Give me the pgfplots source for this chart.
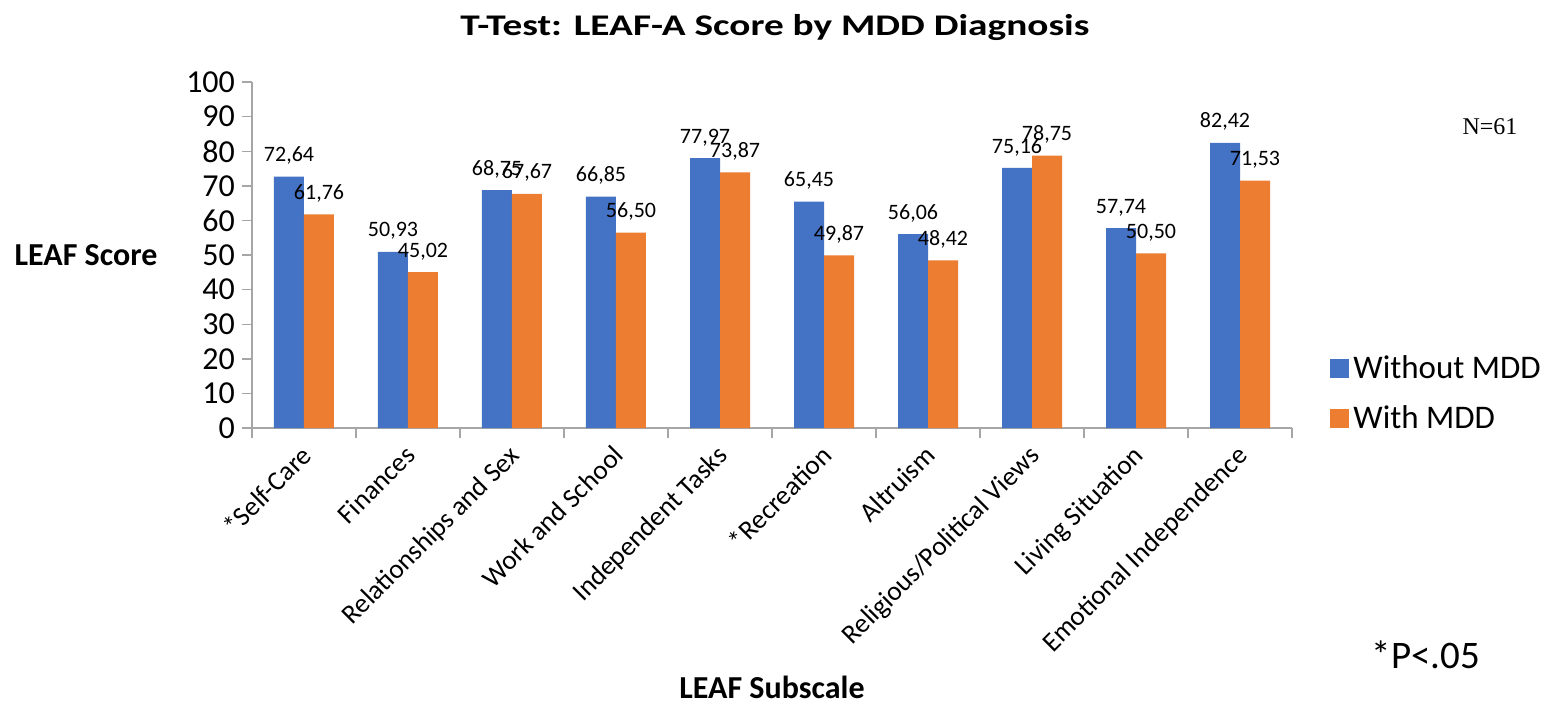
\documentclass[border=0pt]{standalone}
\usepackage{fontspec}
\setmainfont{Carlito}
\newfontfamily\serifN{Liberation Serif}
\usepackage{graphicx}
\usepackage{pgfplots}
\pgfplotsset{compat=1.18}

\definecolor{barblue}{HTML}{4472C4}
\definecolor{barorange}{HTML}{ED7D31}
\definecolor{axisgray}{HTML}{A6A6A6}

\begin{document}
\begin{tikzpicture}
\begin{axis}[
    name=ax,
    scale only axis,
    clip=false,
    width=520pt, height=173pt,
    ybar=0pt,
    bar width=15pt,
    xmin=-0.5, xmax=9.5,
    ymin=0, ymax=100,
    ytick={0,10,...,100},
    xtick={-0.5,0.5,...,9.5},
    x tick label as interval,
    xticklabels={*Self-Care, Finances, Relationships and Sex, Work and School, Independent Tasks, *Recreation, Altruism, Religious/Political Views, Living Situation, Emotional Independence},
    axis x line*=bottom, axis y line*=left,
    axis line style={axisgray, line width=0.7pt},
    tick style={axisgray, line width=0.7pt},
    tick align=outside,
    major tick length=5pt,
    /pgf/number format/assume math mode=true,
    y tick label style={font=\fontsize{16}{19}\selectfont},
    x tick label style={font=\fontsize{13.6}{16}\selectfont, xshift=-2.25pt, yshift=2pt, rotate=45, anchor=north east},
    nodes near coords={\pgfmathprintnumber[fixed,fixed zerofill,precision=2,use comma]{\pgfplotspointmeta}},
    every node near coord/.append style={font=\fontsize{11}{13}\selectfont, black, yshift=2.5pt},
    legend style={draw=none, fill=none, at={(1,0)}, anchor=south west, xshift=19pt, yshift=-4pt,
        font=\fontsize{16.5}{19}\selectfont, row sep=8pt, inner sep=0pt},
    legend cell align=left,
    legend image code/.code={\fill[#1] (0pt,-4.75pt) rectangle (9.5pt,4.75pt);},
]
\addplot[fill=barblue, draw=none] coordinates {
    (0,72.64) (1,50.93) (2,68.75) (3,66.85) (4,77.97)
    (5,65.45) (6,56.06) (7,75.16) (8,57.74) (9,82.42)};
\addplot[fill=barorange, draw=none] coordinates {
    (0,61.76) (1,45.02) (2,67.67) (3,56.50) (4,73.87)
    (5,49.87) (6,48.42) (7,78.75) (8,50.50) (9,71.53)};
\legend{Without MDD, With MDD}

\node[font=\bfseries\fontsize{16}{19}\selectfont, xshift=-83pt] at (rel axis cs:0,0.5) {LEAF Score};
\node[font=\bfseries\fontsize{16}{19}\selectfont, yshift=-129.5pt] at (rel axis cs:0.5,0) {LEAF Subscale};
\node[yshift=27pt, xshift=1.5pt] at (rel axis cs:0.5,1) {\scalebox{1.31}[1]{\bfseries\fontsize{15}{18}\selectfont T-Test: LEAF-A Score by MDD Diagnosis}};
\node[font=\serifN\fontsize{12}{14}\selectfont, xshift=99pt] at (rel axis cs:1,0.87) {N=61};
\node[font=\fontsize{19.5}{22}\selectfont, xshift=67pt, yshift=-113.5pt] at (rel axis cs:1,0) {*P<.05};
\end{axis}
\path ([shift={(-126pt,-136.5pt)}]ax.south west) rectangle ([shift={(129.5pt,41pt)}]ax.north east);
\end{tikzpicture}
\end{document}
